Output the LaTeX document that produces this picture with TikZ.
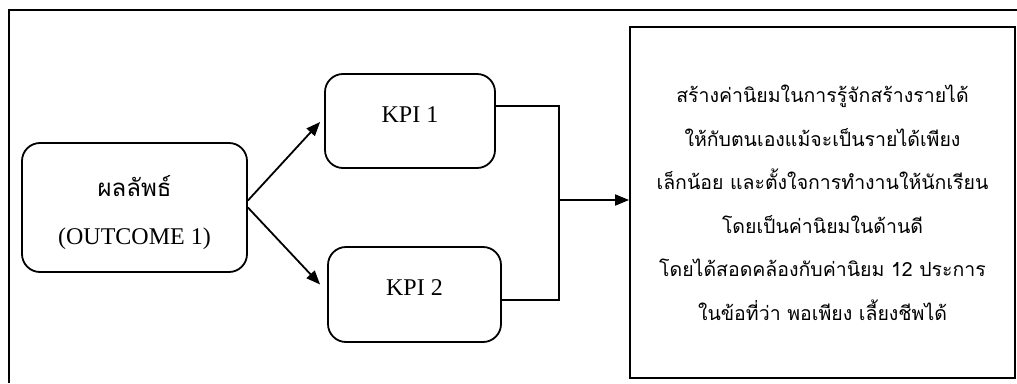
\documentclass[tikz,border=0pt]{standalone}
\usepackage{fontspec}
\setmainfont{Liberation Serif}
\newfontfamily\thaifont[Script=Thai]{Loma}
\usetikzlibrary{arrows.meta}
\tikzset{
  box/.style={draw, line width=1.8pt, rounded corners=18pt, inner sep=0pt},
  resbox/.style={draw, line width=1.8pt, inner sep=0pt},
  link/.style={line width=1.8pt},
  arr/.style={line width=1.8pt, -{Triangle[length=14pt,width=11pt]}},
  frame/.style={line width=1.8pt},
  lbl/.style={font=\fontsize{24}{28}\selectfont}
}
\begin{document}
\begin{tikzpicture}[x=1pt,y=-1pt]
\useasboundingbox (0,0) rectangle (1017,383);
\draw[frame] (1017,10) -- (9,10) -- (9,383);
\node[box, minimum width=225pt, minimum height=129pt] (out) at (134.5,207.5) {};
\node (outth) at (134.5,186) {\fontsize{24}{28}\selectfont\thaifont ผลลัพธ์};
\node[lbl] (outen) at (134.5,239) {(OUTCOME 1)};
\node[box, minimum width=170pt, minimum height=94pt] (k1) at (410,121) {};
\node[lbl] (k1t) at (410,115) {KPI 1};
\node[box, minimum width=173pt, minimum height=95pt] (k2) at (414.5,294.5) {};
\node[lbl] (k2t) at (414.5,288) {KPI 2};
\node[resbox, minimum width=385pt, minimum height=351pt] (res) at (822.5,202.5) {};
\node[align=center, font=\fontsize{19.5}{43.5}\selectfont\thaifont] (txt) at (822.5,203) {%
สร้างค่านิยมในการรู้จักสร้างรายได้\\
ให้กับตนเองแม้จะเป็นรายได้เพียง\\
เล็กน้อย และตั้งใจการทำงานให้นักเรียน\\
โดยเป็นค่านิยมในด้านดี\\
โดยได้สอดคล้องกับค่านิยม 12 ประการ\\
ในข้อที่ว่า พอเพียง เลี้ยงชีพได้};
\coordinate (j) at (559,200);
\draw[arr] ([yshift=7pt]out.east) -- ([xshift=-4pt,yshift=-1pt]k1.west);
\draw[arr] (out.east) -- ([xshift=-7pt,yshift=10pt]k2.west);
\draw[link] ([yshift=15pt]k1.east) -| (j);
\draw[link] ([yshift=-5.5pt]k2.east) -| (j);
\draw[arr] (j) -- (j -| res.west);
\end{tikzpicture}
\end{document}
